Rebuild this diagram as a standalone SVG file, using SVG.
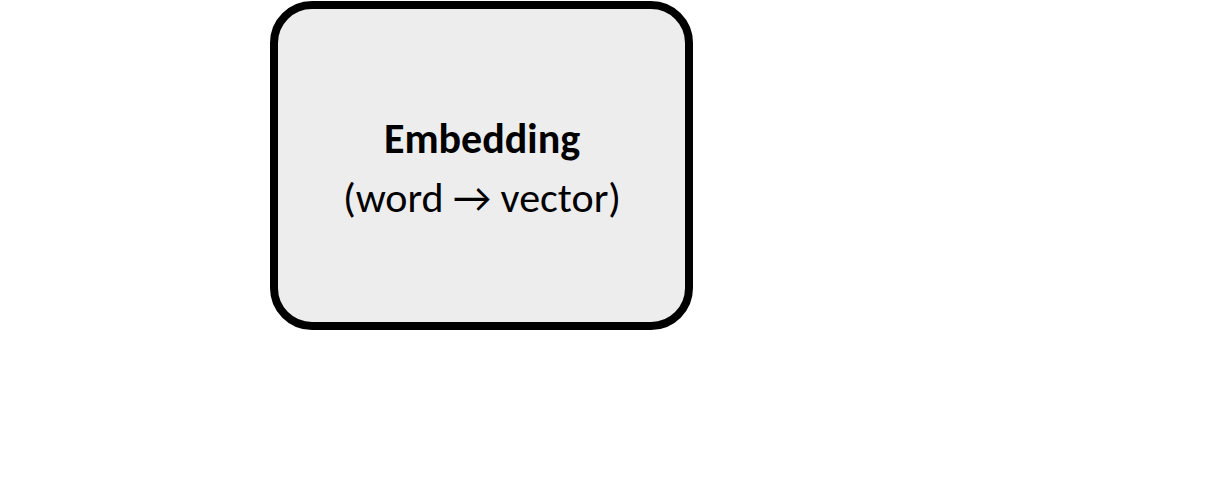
<svg xmlns="http://www.w3.org/2000/svg" width="1213" height="487" viewBox="0 0 1213 487">
<style>
.t{font-family:Calibri,Carlito,"Liberation Sans",sans-serif;fill:#000;text-anchor:middle}
.c{stroke:#fff;stroke-width:2;fill:none}
</style>
<defs><marker id="a" markerWidth="6" markerHeight="6" refX="6" refY="3" orient="auto" markerUnits="userSpaceOnUse"><path d="M0,0 L6,3 L0,6 Z" fill="#fff"/></marker></defs>
<rect width="1213" height="487" fill="#fff"/>
<g id="connectors">
<line class="c" x1="200" y1="57" x2="272" y2="57" marker-end="url(#a)"/>
<line class="c" x1="200" y1="131" x2="272" y2="131" marker-end="url(#a)"/>
<line class="c" x1="200" y1="213" x2="272" y2="213" marker-end="url(#a)"/>
<line class="c" x1="200" y1="288" x2="272" y2="288" marker-end="url(#a)"/>
</g>
<g id="embedding">
<rect x="274" y="5" width="415" height="321" rx="38" fill="#ededed" stroke="#000" stroke-width="8"/>
<text class="t" x="482" y="153" font-size="42" font-weight="bold">Embedding</text>
<text class="t" x="482" y="212" font-size="42">(word → vector)</text>
</g>
</svg>
